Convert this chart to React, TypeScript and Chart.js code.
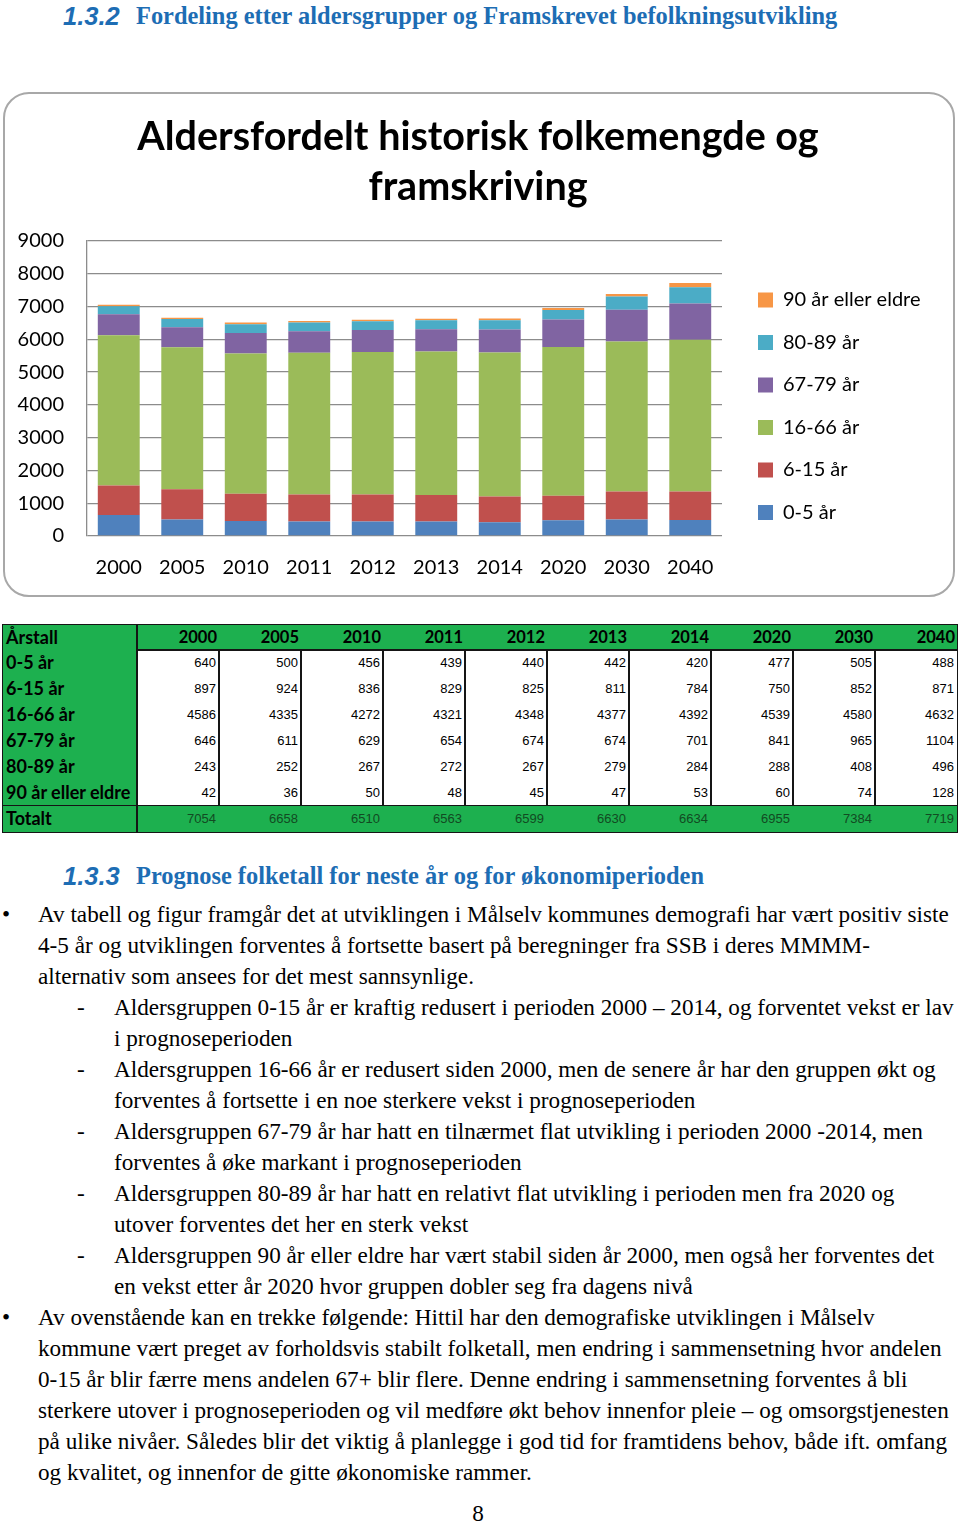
import React, { useEffect, useRef } from "react";
import { Chart, registerables } from "chart.js";

Chart.register(...registerables);

// ---------- data ----------
const years = ["2000", "2005", "2010", "2011", "2012", "2013", "2014", "2020", "2030", "2040"];
const age0to5 = [640, 500, 456, 439, 440, 442, 420, 477, 505, 488];
const age6to15 = [897, 924, 836, 829, 825, 811, 784, 750, 852, 871];
const age16to66 = [4586, 4335, 4272, 4321, 4348, 4377, 4392, 4539, 4580, 4632];
const age67to79 = [646, 611, 629, 654, 674, 674, 701, 841, 965, 1104];
const age80to89 = [243, 252, 267, 272, 267, 279, 284, 288, 408, 496];
const age90plus = [42, 36, 50, 48, 45, 47, 53, 60, 74, 128];
const totals = [7054, 6658, 6510, 6563, 6599, 6630, 6634, 6955, 7384, 7719];
const groupLabels = ["0-5 år", "6-15 år", "16-66 år", "67-79 år", "80-89 år", "90 år eller eldre"];
const groupColors = ["#4f81bd", "#c0504d", "#9bbb59", "#8064a2", "#4bacc6", "#f79646"];
const yMin = 0;
const yMax = 9000;
const yStep = 1000;
const chartTitle = ["Aldersfordelt historisk folkemengde og", "framskriving"];
const tableHeader = "Årstall";
const totalLabel = "Totalt";

const heading1 = ["1.3.2", "Fordeling etter aldersgrupper og Framskrevet befolkningsutvikling"];
const heading2 = ["1.3.3", "Prognose folketall for neste år og for økonomiperioden"];

const bullet1 = [
  "Av tabell og figur framgår det at utviklingen i Målselv kommunes demografi har vært positiv siste",
  "4-5 år og utviklingen forventes å fortsette basert på beregninger fra SSB i deres MMMM-",
  "alternativ som ansees for det mest sannsynlige.",
];
const dashItems = [
  ["Aldersgruppen 0-15 år er kraftig redusert i perioden 2000 – 2014, og forventet vekst er lav", "i prognoseperioden"],
  ["Aldersgruppen 16-66 år er redusert siden 2000, men de senere år har den gruppen økt og", "forventes å fortsette i en noe sterkere vekst i prognoseperioden"],
  ["Aldersgruppen 67-79 år har hatt en tilnærmet flat utvikling i perioden 2000 -2014, men", "forventes å øke markant i prognoseperioden"],
  ["Aldersgruppen 80-89 år har hatt en relativt flat utvikling i perioden men fra 2020 og", "utover forventes det her en sterk vekst"],
  ["Aldersgruppen 90 år eller eldre har vært stabil siden år 2000, men også her forventes det", "en vekst etter år 2020 hvor gruppen dobler seg fra dagens nivå"],
];
const bullet2 = [
  "Av ovenstående kan en trekke følgende: Hittil har den demografiske utviklingen i Målselv",
  "kommune vært preget av forholdsvis stabilt folketall, men endring i sammensetning hvor andelen",
  "0-15 år blir færre mens andelen 67+ blir flere. Denne endring i sammensetning forventes å bli",
  "sterkere utover i prognoseperioden og vil medføre økt behov innenfor pleie – og omsorgstjenesten",
  "på ulike nivåer. Således blir det viktig å planlegge i god tid for framtidens behov, både ift. omfang",
  "og kvalitet, og innenfor de gitte økonomiske rammer.",
];
const pageNumber = "8";

const series = [age0to5, age6to15, age16to66, age67to79, age80to89, age90plus];

// ---------- styles ----------
const HEAD_BLUE = "#1d6db4";
const TABLE_GREEN = "#1db04f";
const LINE_DARK = "#151515";
const SERIF = "'Liberation Serif', 'Times New Roman', serif";
const SANS = "'Liberation Sans', Arial, sans-serif";
const CAL = "Lato, 'Open Sans', sans-serif";
const BODY_SIZE = 23.2;

function BarChart() {
  const ref = useRef<HTMLCanvasElement>(null);
  useEffect(() => {
    const tickFont = { family: "Lato", size: 20 };
    const hiddenAxis = (width: number, weight: number) => ({
      position: "right",
      display: true,
      weight,
      grid: { display: false, drawTicks: false },
      border: { display: false },
      ticks: { display: false },
      afterFit: (s: any) => {
        s.width = width;
      },
    });
    const chart = new Chart(ref.current as HTMLCanvasElement, {
      type: "bar",
      data: {
        labels: years,
        datasets: groupLabels.map((label, i) => ({
          label,
          data: series[i],
          backgroundColor: groupColors[i],
          borderWidth: 0,
          categoryPercentage: 1,
          barPercentage: 0.66,
          yAxisID: "y",
        })),
      },
      options: {
        animation: false,
        responsive: false,
        maintainAspectRatio: false,
        devicePixelRatio: 1,
        events: [],
        layout: { padding: { left: 12, right: 14, top: 0, bottom: 17 } },
        plugins: {
          title: {
            display: true,
            text: chartTitle,
            color: "#000",
            font: { family: "Lato", size: 39.5, weight: "bold", lineHeight: 50 / 39.5 },
            padding: { top: 20, bottom: 29 },
          },
          legend: {
            position: "right",
            align: "start",
            reverse: true,
            maxWidth: 185,
            title: {
              display: true,
              text: " ",
              font: { size: 10, lineHeight: 1 },
              padding: { top: 165.5, bottom: 0 },
            },
            labels: {
              boxWidth: 15,
              boxHeight: 15,
              padding: 22.5,
              color: "#000",
              font: tickFont,
            },
          },
          tooltip: { enabled: false },
        },
        scales: {
          x: {
            stacked: true,
            grid: { display: false, drawTicks: false },
            border: { display: false },
            ticks: { padding: 20, color: "#000", font: tickFont, maxRotation: 0 },
            afterFit: (s: any) => {
              s.height = 44;
            },
          },
          y: {
            stacked: true,
            min: yMin,
            max: yMax,
            ticks: {
              stepSize: yStep,
              padding: 23,
              color: "#000",
              font: tickFont,
              callback: (v: any) => String(v),
            },
            grid: { color: "#8c8c8c", lineWidth: 1.3, drawTicks: false },
            border: { color: "#8c8c8c", width: 1.3 },
            afterFit: (s: any) => {
              s.width = 72;
            },
          },
          gap: hiddenAxis(13.5, 0),
          edge: hiddenAxis(20.5, 2000),
        },
      } as any,
    });
    return () => chart.destroy();
  }, []);
  return (
    <canvas
      ref={ref}
      width={952}
      height={505}
      style={{ position: "absolute", left: 3, top: 92, width: 952, height: 505 }}
    />
  );
}

function Heading({ y, parts }: { y: number; parts: string[] }) {
  return (
    <>
      <div
        style={{
          position: "absolute", left: 63, top: y - 16, fontFamily: SANS, fontStyle: "italic",
          fontWeight: "bold", fontSize: 25.5, lineHeight: "30px", color: HEAD_BLUE, whiteSpace: "nowrap",
        }}
      >
        {parts[0]}
      </div>
      <div
        style={{
          position: "absolute", left: 136, top: y - 16, fontFamily: SERIF, fontWeight: "bold",
          fontSize: 24.4, lineHeight: "30px", color: HEAD_BLUE, whiteSpace: "nowrap",
        }}
      >
        {parts[1]}
      </div>
    </>
  );
}

function TextLine({ x, y, text }: { x: number; y: number; text: string }) {
  return (
    <div
      style={{
        position: "absolute", left: x, top: y - 17, fontFamily: SERIF, fontSize: BODY_SIZE,
        lineHeight: "31px", color: "#000", whiteSpace: "nowrap",
      }}
    >
      {text}
    </div>
  );
}

function DataTable() {
  const left = 3;
  const top = 624.5;
  const firstW = 134;
  const colW = 82;
  const rowH = 25.9;
  const width = firstW + colW * years.length;
  const rows = groupLabels.map((l, i) => ({ label: l, values: series[i] }));
  const cells: React.ReactNode[] = [];
  const labelStyle = (r: number): React.CSSProperties => ({
    position: "absolute", left: 3, top: r * rowH, height: rowH, lineHeight: rowH + "px",
    fontFamily: CAL, fontWeight: "bold", fontSize: 18, color: "#000", whiteSpace: "nowrap",
  });
  cells.push(<div key="hl" style={labelStyle(0)}>{tableHeader}</div>);
  years.forEach((yr, c) => {
    cells.push(
      <div key={"h" + c} style={{
        position: "absolute", left: firstW + c * colW, width: colW - 2, top: 0, height: rowH,
        lineHeight: rowH + "px", textAlign: "right", fontFamily: CAL, fontWeight: "bold", fontSize: 16.5, color: "#000",
      }}>{yr}</div>
    );
  });
  rows.forEach((row, r) => {
    cells.push(<div key={"l" + r} style={labelStyle(r + 1)}>{row.label}</div>);
    row.values.forEach((v, c) => {
      cells.push(
        <div key={"v" + r + "-" + c} style={{
          position: "absolute", left: firstW + c * colW, width: colW - 3, top: (r + 1) * rowH, height: rowH,
          lineHeight: rowH + "px", textAlign: "right", fontFamily: SANS, fontSize: 13, color: "#000",
        }}>{v}</div>
      );
    });
  });
  const tr = rows.length + 1;
  cells.push(<div key="tl" style={labelStyle(tr)}>{totalLabel}</div>);
  totals.forEach((v, c) => {
    cells.push(
      <div key={"t" + c} style={{
        position: "absolute", left: firstW + c * colW, width: colW - 3, top: tr * rowH, height: rowH,
        lineHeight: rowH + "px", textAlign: "right", fontFamily: SANS, fontSize: 13, color: "#124a22",
      }}>{v}</div>
    );
  });
  const whiteTop = rowH;
  const whiteBottom = tr * rowH;
  const lines: React.ReactNode[] = [];
  lines.push(<div key="wb" style={{ position: "absolute", left: firstW, top: whiteTop, width: width - firstW, height: whiteBottom - whiteTop, background: "#fff" }} />);
  lines.push(<div key="ht" style={{ position: "absolute", left: firstW, top: whiteTop - 1, width: width - firstW, height: 1.5, background: LINE_DARK }} />);
  lines.push(<div key="hb" style={{ position: "absolute", left: 0, top: whiteBottom - 1, width: width, height: 1.5, background: LINE_DARK }} />);
  lines.push(<div key="v0" style={{ position: "absolute", left: firstW - 1, top: 0, width: 1.5, height: (tr + 1) * rowH, background: LINE_DARK }} />);
  for (let c = 1; c < years.length; c++) {
    lines.push(<div key={"v" + c} style={{ position: "absolute", left: firstW + c * colW - 1, top: whiteTop, width: 1.5, height: whiteBottom - whiteTop, background: LINE_DARK }} />);
  }
  return (
    <div style={{
      position: "absolute", left, top, width, height: (tr + 1) * rowH, background: TABLE_GREEN,
      outline: "1.5px solid " + LINE_DARK,
    }}>
      {lines}
      {cells}
    </div>
  );
}

export default function App() {
  const lineStart = 916;
  const step = 31;
  const body: React.ReactNode[] = [];
  let k = 0;
  body.push(<TextLine key="b1" x={2} y={lineStart} text="•" />);
  bullet1.forEach((t) => {
    body.push(<TextLine key={"p" + k} x={38} y={lineStart + k * step} text={t} />);
    k++;
  });
  dashItems.forEach((item, i) => {
    body.push(<TextLine key={"d" + i} x={77} y={lineStart + k * step} text="-" />);
    item.forEach((t) => {
      body.push(<TextLine key={"p" + k} x={114} y={lineStart + k * step} text={t} />);
      k++;
    });
  });
  body.push(<TextLine key="b2" x={2} y={lineStart + k * step} text="•" />);
  bullet2.forEach((t) => {
    body.push(<TextLine key={"p" + k} x={38} y={lineStart + k * step} text={t} />);
    k++;
  });

  return (
    <div style={{ position: "relative", width: 960, height: 1527, background: "#fff", overflow: "hidden" }}>
      <style>{"body{margin:0;}"}</style>
      <Heading y={17} parts={heading1} />
      <BarChart />
      <div style={{
        position: "absolute", left: 3, top: 92, width: 952, height: 505, boxSizing: "border-box",
        border: "2px solid #a8a8a8", borderRadius: 26, pointerEvents: "none",
      }} />
      <DataTable />
      <Heading y={877} parts={heading2} />
      {body}
      <div style={{
        position: "absolute", left: 0, width: 956, top: 1515 - 17, textAlign: "center", fontFamily: SERIF,
        fontSize: BODY_SIZE, lineHeight: "31px",
      }}>{pageNumber}</div>
    </div>
  );
}
